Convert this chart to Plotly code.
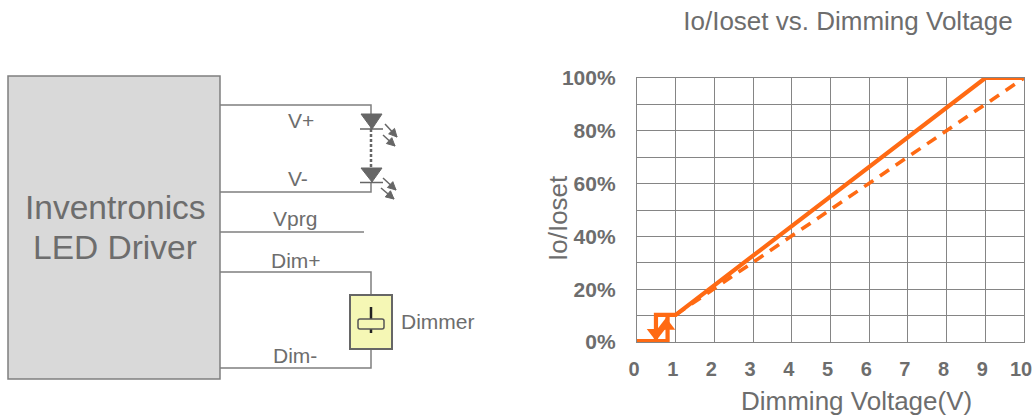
import plotly.graph_objects as go

# Chart data
solid_x = [0, 0.79, 0.79, 0.49, 0.49, 0.49, 1, 9, 10]
solid_y = [0.3, 0.3, 10.3, 10.3, 0.3, 10.3, 10.3, 100, 100]
dashed_x = [1, 10]
dashed_y = [10.3, 100]
arrow_down = ([0.49], [3.4])
arrow_up = ([0.75], [6.2])
x_ticks = list(range(11))
y_grid = list(range(0, 101, 10))
y_labels = ["0%", "", "20%", "", "40%", "", "60%", "", "80%", "", "100%"]

# Schematic (drawn on a page-sized overlay axis)
driver_box = (8, 76, 220, 379)
wires = [
    [(220, 105), (371, 105), (371, 129)],
    [(220, 192), (371, 192), (371, 182)],
    [(220, 232), (364, 232)],
    [(220, 272), (371, 272), (371, 295)],
    [(220, 368), (371, 368), (371, 349)],
]
diodes = [[(361, 114), (382, 114), (372, 129)], [(361, 168), (382, 168), (372, 182)]]
diode_bars = [[(360, 129), (383, 129)], [(360, 182.5), (383, 182.5)]]
led_rays = [
    [(385, 124), (397, 137)], [(383, 135), (395, 146)],
    [(383, 178), (396, 190)], [(381, 188), (394, 199)],
]
dimmer_box = (350, 295, 392, 349)
dimmer_stem = [(371, 307), (371, 333)]
dimmer_knob_path = "M360 319 L382 319 Q384 319 384 321 L384 327 Q384 329 382 329 L360 329 Q358 329 358 327 L358 321 Q358 319 360 319 Z"
schem_labels = [
    ("V+", 301, 120, 21), ("V-", 298, 178, 21), ("Vprg", 295, 218, 21),
    ("Dim+", 296, 260, 21), ("Dim-", 295, 355, 21), ("Dimmer", 438, 321, 21),
    ("Inventronics", 115, 207, 33.5), ("LED Driver", 115, 247, 33.5),
]
axis_titles = [("Dimming Voltage(V)", 856, 401, 0), ("Io/Ioset", 558, 218, -90)]

GREY = "#7f7f7f"
TEXT = "#6d6d6d"
ORANGE = "#ff6a13"
FONT = "Liberation Sans"
W, H = 1035, 416

fig = go.Figure()

fig.add_trace(go.Scatter(x=solid_x, y=solid_y, mode="lines", line=dict(color=ORANGE, width=4.2), cliponaxis=False))
fig.add_trace(go.Scatter(x=dashed_x, y=dashed_y, mode="lines", line=dict(color=ORANGE, width=3.6, dash="11px,8px"), cliponaxis=False))
fig.add_trace(go.Scatter(x=arrow_down[0], y=arrow_down[1], mode="markers",
                         marker=dict(symbol="triangle-down", size=16, color=ORANGE), cliponaxis=False))
fig.add_trace(go.Scatter(x=arrow_up[0], y=arrow_up[1], mode="markers",
                         marker=dict(symbol="triangle-up", size=16, color=ORANGE), cliponaxis=False))

shapes = []
def seg(points, color=GREY, width=1.5, dash=None, fill=None, close=False):
    d = "M" + " L".join(f"{x} {y}" for x, y in points) + (" Z" if close else "")
    shapes.append(dict(type="path", path=d, xref="x2", yref="y2",
                       line=dict(color=color, width=width, dash=dash or "solid"),
                       fillcolor=fill if fill else "rgba(0,0,0,0)"))
def rect(b, line, fill, width=1.5):
    shapes.append(dict(type="rect", x0=b[0], y0=b[1], x1=b[2], y1=b[3], xref="x2", yref="y2",
                       line=dict(color=line, width=width), fillcolor=fill))

rect(driver_box, GREY, "#d9d9d9")
for w in wires:
    seg(w)
seg([(371, 129), (371, 168)], color="#666666", width=2.5, dash="3px,2px")
for d in diodes:
    seg(d, color="#666666", width=1, fill="#666666", close=True)
for b in diode_bars:
    seg(b, color="#666666")
for a, b in led_rays:
    seg([a, b], color="#666666")
    ux, uy = (b[0] - a[0]), (b[1] - a[1])
    n = (ux * ux + uy * uy) ** 0.5
    ux, uy = ux / n, uy / n
    bx, by = b[0] - 8 * ux, b[1] - 8 * uy
    seg([b, (bx - 4 * uy, by + 4 * ux), (bx + 4 * uy, by - 4 * ux)],
        color="#666666", width=1, fill="#666666", close=True)
rect(dimmer_box, "#666666", "#f5f7b5", 2)
seg(dimmer_stem, color="#222222", width=2.5)
shapes.append(dict(type="path", path=dimmer_knob_path,
                   xref="x2", yref="y2", line=dict(color="#555555", width=1.5), fillcolor="#f5f7b5"))

annotations = [dict(text=t, x=x, y=y, xref="x2", yref="y2", showarrow=False,
                    xanchor="center", yanchor="middle",
                    font=dict(family=FONT, size=s, color=TEXT)) for t, x, y, s in schem_labels]
annotations += [dict(text=t, x=x, y=y, xref="x2", yref="y2", showarrow=False, textangle=a,
                     xanchor="center", yanchor="middle",
                     font=dict(family=FONT, size=26, color=TEXT)) for t, x, y, a in axis_titles]

fig.update_layout(
    width=W, height=H, autosize=False, showlegend=False,
    margin=dict(l=0, r=0, t=0, b=0),
    paper_bgcolor="white", plot_bgcolor="rgba(0,0,0,0)",
    shapes=shapes, annotations=annotations,
    title=dict(text="Io/Ioset vs. Dimming Voltage", x=848 / W, xanchor="center", y=1 - 21 / H, yanchor="middle",
               font=dict(family=FONT, size=26, color=TEXT)),
    xaxis=dict(domain=[637 / W, 1024 / W], range=[0, 10], tickmode="array", tickvals=x_ticks,
               showgrid=True, gridcolor="#858585", gridwidth=1.3, zeroline=False, automargin=False,
               showline=True, linecolor="#858585", linewidth=1.3, mirror=True, ticks="", ticklabelstandoff=9,
               ticklabelshift=-3, ticklabeloverflow="allow",
               tickfont=dict(family=FONT, size=20, color=TEXT, weight=700)),
    yaxis=dict(domain=[(H - 342) / H, (H - 78) / H], range=[0, 100], tickmode="array",
               tickvals=y_grid, ticktext=y_labels,
               showgrid=True, gridcolor="#858585", gridwidth=1.3, zeroline=False, automargin=False,
               showline=True, linecolor="#858585", linewidth=1.3, mirror=True, ticks="", ticklabelstandoff=16,
               tickfont=dict(family=FONT, size=21, color=TEXT, weight=700)),
    xaxis2=dict(domain=[0, 1], range=[0, W], visible=False, anchor="y2", fixedrange=True, automargin=False),
    yaxis2=dict(domain=[0, 1], range=[H, 0], visible=False, anchor="x2", fixedrange=True, automargin=False),
)
# keep the overlay axes alive with an invisible anchor trace
fig.add_trace(go.Scatter(x=[0, W], y=[0, H], xaxis="x2", yaxis="y2", mode="markers",
                         marker=dict(opacity=0), hoverinfo="skip"))

fig.write_html("out.html", config={"displayModeBar": False},
               post_script="document.body.style.margin='0';document.documentElement.style.overflow='hidden';")
